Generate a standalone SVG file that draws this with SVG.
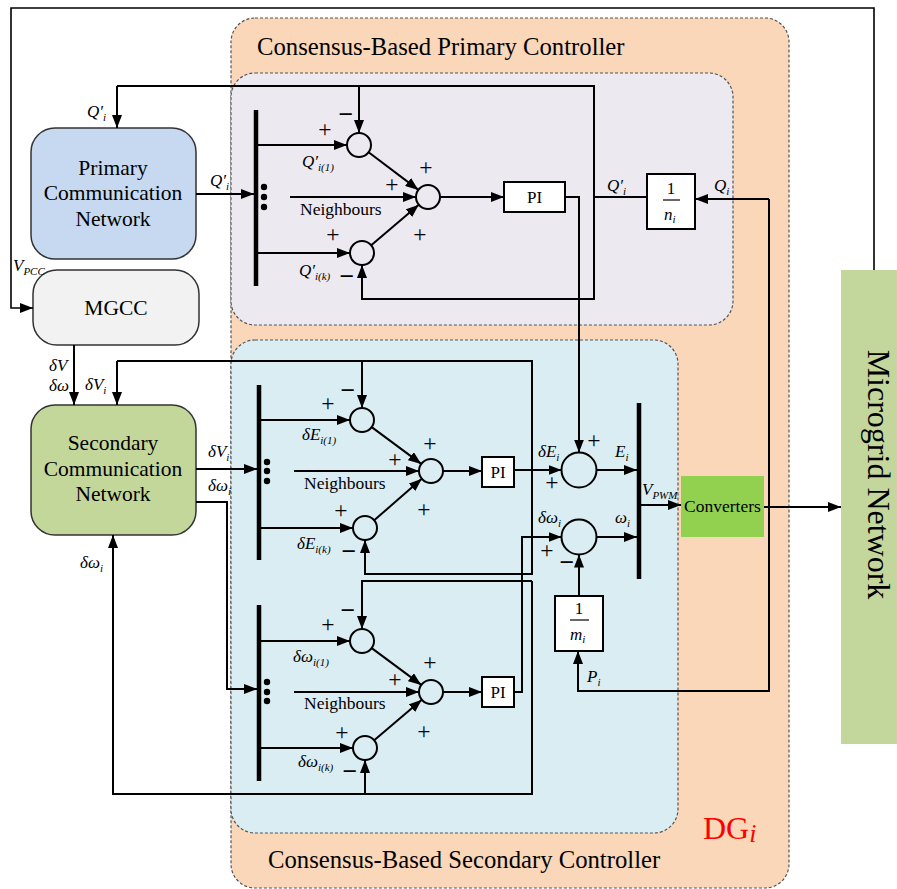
<svg xmlns="http://www.w3.org/2000/svg" width="897" height="889" viewBox="0 0 897 889">
<style>
.t{font-family:"Liberation Serif","Times New Roman",serif;fill:#000}
.box{font-size:21.5px}
.ttl{font-size:24.7px}
.nb{font-size:17.5px}
.lbl{font-size:17px;font-style:italic}
.sub{font-size:11px;font-style:italic}
.pm{font-size:23.5px;text-anchor:middle}
.mn{font-size:26px;text-anchor:middle;font-weight:bold}
.ln{fill:none;stroke:#000;stroke-width:2}
.thin{fill:none;stroke:#000;stroke-width:1.6}
.bar{stroke:#000;stroke-width:4.5}
.sum{fill:none;stroke:#000;stroke-width:2}
.blk{fill:#fff;stroke:#000;stroke-width:2}
.dash{stroke:#555;stroke-width:1.2;stroke-dasharray:3 2}
.node{stroke:#333;stroke-width:1.5}
</style>
<defs>
<marker id="ah" markerUnits="userSpaceOnUse" markerWidth="13" markerHeight="10" refX="13" refY="5" orient="auto"><path d="M0,0 L13,5 L0,10 z" fill="#000"/></marker>
</defs>

<g id="dg">
<rect x="231" y="18" width="558" height="870" rx="24" fill="#FAD7B9" class="dash"/>
<text class="t ttl" x="257" y="55">Consensus-Based Primary Controller</text>
<text class="t ttl" x="268" y="868">Consensus-Based Secondary Controller</text>
<text class="t" x="703" y="839" font-size="32" style="fill:#f00">DG<tspan font-style="italic" font-size="26" dy="3">i</tspan></text>
</g>
<g id="primary-controller">
<rect x="231" y="73" width="502" height="252" rx="24" fill="#ECE9F1" class="dash"/>
</g>
<g id="secondary-controller">
<rect x="231" y="340" width="447" height="493" rx="24" fill="#DAEDF3" class="dash"/>
</g>

<g id="microgrid">
<rect x="841" y="270" width="56" height="474" fill="#C3D69B"/>
<text class="t" font-size="32" text-anchor="middle" x="868" y="474.5" transform="rotate(90 868 474.5)">Microgrid  Network</text>
</g>

<g id="pcn">
<rect x="31" y="128" width="165" height="131" rx="24" fill="#C6D9F0" class="node"/>
<text class="t box" text-anchor="middle" x="113" y="175">Primary</text>
<text class="t box" text-anchor="middle" x="113" y="200">Communication</text>
<text class="t box" text-anchor="middle" x="113" y="226">Network</text>
</g>
<g id="mgcc">
<rect x="33" y="270" width="166" height="75" rx="24" fill="#F2F2F2" class="node"/>
<text class="t box" text-anchor="middle" x="116" y="315">MGCC</text>
</g>
<g id="scn">
<rect x="31" y="405" width="165" height="130" rx="24" fill="#C4D79B" class="node"/>
<text class="t box" text-anchor="middle" x="113" y="450">Secondary</text>
<text class="t box" text-anchor="middle" x="113" y="476">Communication</text>
<text class="t box" text-anchor="middle" x="113" y="501">Network</text>
</g>
<g id="converters">
<rect x="681" y="476" width="83" height="61" fill="#92D050"/>
<text class="t" font-size="17.5" text-anchor="middle" x="722.5" y="512">Converters</text>
</g>

<g id="p-bar">
<line class="bar" x1="256" y1="110" x2="256" y2="286"/>
<circle cx="264" cy="187" r="3.2"/><circle cx="264" cy="197" r="3.2"/><circle cx="264" cy="207" r="3.2"/>
</g>
<g id="p-sum1"><circle class="sum" cx="359" cy="145" r="12"/></g>
<g id="p-sum2"><circle class="sum" cx="428" cy="197" r="12"/></g>
<g id="p-sum3"><circle class="sum" cx="362" cy="253" r="12"/></g>
<g id="p-pi"><rect class="blk" x="504" y="182" width="61" height="30"/><text class="t" font-size="17" text-anchor="middle" x="534.5" y="203">PI</text></g>
<g id="p-gain">
<rect class="blk" x="647" y="174" width="48" height="55"/>
<text class="t" font-size="17" text-anchor="middle" x="671" y="194">1</text>
<line x1="663" y1="200" x2="680" y2="200" stroke="#000" stroke-width="1.2"/>
<text class="t lbl" x="664" y="220">n<tspan class="sub" dy="3">i</tspan></text>
</g>

<g id="e-bar">
<line class="bar" x1="259" y1="385" x2="259" y2="560"/>
<circle cx="267" cy="462" r="3.2"/><circle cx="267" cy="471" r="3.2"/><circle cx="267" cy="481" r="3.2"/>
</g>
<g id="e-sum1"><circle class="sum" cx="362" cy="420" r="12"/></g>
<g id="e-sum2"><circle class="sum" cx="431" cy="471" r="12"/></g>
<g id="e-sum3"><circle class="sum" cx="365" cy="528" r="12"/></g>
<g id="e-pi"><rect class="blk" x="482" y="457" width="32" height="30"/><text class="t" font-size="17" text-anchor="middle" x="498" y="478">PI</text></g>

<g id="w-bar">
<line class="bar" x1="259" y1="605" x2="259" y2="781"/>
<circle cx="267" cy="682" r="3.2"/><circle cx="267" cy="692" r="3.2"/><circle cx="267" cy="701" r="3.2"/>
</g>
<g id="w-sum1"><circle class="sum" cx="362" cy="641" r="12"/></g>
<g id="w-sum2"><circle class="sum" cx="431" cy="692" r="12"/></g>
<g id="w-sum3"><circle class="sum" cx="365" cy="748" r="12"/></g>
<g id="w-pi"><rect class="blk" x="482" y="677" width="32" height="30"/><text class="t" font-size="17" text-anchor="middle" x="498" y="698">PI</text></g>

<g id="e-total"><circle class="sum" cx="579" cy="470" r="17.5"/></g>
<g id="w-total"><circle class="sum" cx="579" cy="537" r="17.5"/></g>
<g id="pwm-bar"><line class="bar" x1="639" y1="403" x2="639" y2="579"/></g>
<g id="m-gain">
<rect class="blk" x="555" y="596" width="48" height="55"/>
<text class="t" font-size="17" text-anchor="middle" x="579" y="614">1</text>
<line x1="570" y1="620" x2="589" y2="620" stroke="#000" stroke-width="1.2"/>
<text class="t lbl" x="570" y="640">m<tspan class="sub" dy="3">i</tspan></text>
</g>

<g id="connectors">
<polyline class="thin" points="874,270 874,8 11,8 11,308 33,308" marker-end="url(#ah)"/>
<line class="ln" x1="74" y1="345" x2="74" y2="405" marker-end="url(#ah)"/>
<line class="ln" x1="196" y1="194" x2="254" y2="194" marker-end="url(#ah)"/>
<line class="ln" x1="258" y1="145" x2="347" y2="145" marker-end="url(#ah)"/>
<line class="ln" x1="290" y1="197" x2="416" y2="197" marker-end="url(#ah)"/>
<line class="ln" x1="258" y1="253" x2="350" y2="253" marker-end="url(#ah)"/>
<line class="ln" x1="368.6" y1="152.2" x2="418.4" y2="189.9" marker-end="url(#ah)"/>
<line class="ln" x1="371.2" y1="245.3" x2="418.8" y2="204.7" marker-end="url(#ah)"/>
<line class="ln" x1="440" y1="197" x2="504" y2="197" marker-end="url(#ah)"/>
<polyline class="ln" points="647,197 594,197"/>
<polyline class="ln" points="117,86 594,86 594,299 362,299 362,265" marker-end="url(#ah)"/>
<line class="ln" x1="117" y1="86" x2="117" y2="128" marker-end="url(#ah)"/>
<line class="ln" x1="359" y1="86" x2="359" y2="133" marker-end="url(#ah)"/>
<polyline class="ln" points="565,197 579,197 579,452.5" marker-end="url(#ah)"/>
<polyline class="ln" points="769,199 695,199" marker-end="url(#ah)"/>
<polyline class="ln" points="769,199 769,691 578,691 578,651" marker-end="url(#ah)"/>
<line class="ln" x1="579" y1="596" x2="579" y2="554.5" marker-end="url(#ah)"/>
<line class="ln" x1="196" y1="469" x2="257" y2="469" marker-end="url(#ah)"/>
<polyline class="ln" points="196,502 227,502 227,689 257,689" marker-end="url(#ah)"/>
<line class="ln" x1="261" y1="420" x2="350" y2="420" marker-end="url(#ah)"/>
<line class="ln" x1="294" y1="471" x2="419" y2="471" marker-end="url(#ah)"/>
<line class="ln" x1="261" y1="528" x2="353" y2="528" marker-end="url(#ah)"/>
<line class="ln" x1="371.7" y1="427.1" x2="421.3" y2="463.9" marker-end="url(#ah)"/>
<line class="ln" x1="374.2" y1="520.3" x2="421.8" y2="478.7" marker-end="url(#ah)"/>
<line class="ln" x1="443" y1="471" x2="482" y2="471" marker-end="url(#ah)"/>
<line class="ln" x1="514" y1="470" x2="561.5" y2="470" marker-end="url(#ah)"/>
<polyline class="ln" points="117,361 532,361 532,574 365,574 365,540" marker-end="url(#ah)"/>
<line class="ln" x1="117" y1="361" x2="117" y2="405" marker-end="url(#ah)"/>
<line class="ln" x1="362" y1="361" x2="362" y2="408" marker-end="url(#ah)"/>
<line class="ln" x1="261" y1="641" x2="350" y2="641" marker-end="url(#ah)"/>
<line class="ln" x1="294" y1="692" x2="419" y2="692" marker-end="url(#ah)"/>
<line class="ln" x1="261" y1="748" x2="353" y2="748" marker-end="url(#ah)"/>
<line class="ln" x1="371.7" y1="648.1" x2="421.3" y2="684.9" marker-end="url(#ah)"/>
<line class="ln" x1="374.2" y1="740.3" x2="421.8" y2="699.7" marker-end="url(#ah)"/>
<line class="ln" x1="443" y1="692" x2="482" y2="692" marker-end="url(#ah)"/>
<polyline class="ln" points="514,692 522,692 522,537 561.5,537" marker-end="url(#ah)"/>
<polyline class="ln" points="532,581 532,794 113,794 113,535" marker-end="url(#ah)"/>
<polyline class="ln" points="532,581 362,581 362,629" marker-end="url(#ah)"/>
<line class="ln" x1="365" y1="794" x2="365" y2="760" marker-end="url(#ah)"/>
<line class="ln" x1="596.5" y1="470" x2="637" y2="470" marker-end="url(#ah)"/>
<line class="ln" x1="596.5" y1="537" x2="637" y2="537" marker-end="url(#ah)"/>
<line class="ln" x1="641" y1="505" x2="681" y2="505" marker-end="url(#ah)"/>
<line class="ln" x1="764" y1="507" x2="841" y2="507" marker-end="url(#ah)"/>
</g>

<g id="labels">
<text class="t lbl" x="13" y="271">V<tspan class="sub" dy="4">PCC</tspan></text>
<text class="t lbl" x="87" y="117">Q′<tspan class="sub" dy="4">i</tspan></text>
<text class="t lbl" x="210" y="186">Q′<tspan class="sub" dy="4">i</tspan></text>
<text class="t lbl" x="302" y="167">Q′<tspan class="sub" dy="4">i(1)</tspan></text>
<text class="t lbl" x="299" y="276">Q′<tspan class="sub" dy="4">i(k)</tspan></text>
<text class="t lbl" x="607" y="191">Q′<tspan class="sub" dy="4">i</tspan></text>
<text class="t lbl" x="714" y="191">Q<tspan class="sub" dy="4">i</tspan></text>
<text class="t nb" x="300" y="215">Neighbours</text>
<text class="t nb" x="304" y="489">Neighbours</text>
<text class="t nb" x="304" y="709">Neighbours</text>

<text class="t lbl" x="49" y="371">δV</text>
<text class="t lbl" x="49" y="391">δω</text>
<text class="t lbl" x="85" y="390">δV<tspan class="sub" dy="4">i</tspan></text>
<text class="t lbl" x="208" y="457">δV<tspan class="sub" dy="4">i</tspan></text>
<text class="t lbl" x="208" y="491">δω<tspan class="sub" dy="4">i</tspan></text>
<text class="t lbl" x="80" y="568">δω<tspan class="sub" dy="4">i</tspan></text>
<text class="t lbl" x="302" y="440">δE<tspan class="sub" dy="4">i(1)</tspan></text>
<text class="t lbl" x="297" y="549">δE<tspan class="sub" dy="4">i(k)</tspan></text>
<text class="t lbl" x="293" y="662">δω<tspan class="sub" dy="4">i(1)</tspan></text>
<text class="t lbl" x="298" y="767">δω<tspan class="sub" dy="4">i(k)</tspan></text>
<text class="t lbl" x="538" y="457">δE<tspan class="sub" dy="4">i</tspan></text>
<text class="t lbl" x="615" y="457">E<tspan class="sub" dy="4">i</tspan></text>
<text class="t lbl" x="538" y="523">δω<tspan class="sub" dy="4">i</tspan></text>
<text class="t lbl" x="615" y="523">ω<tspan class="sub" dy="4">i</tspan></text>
<text class="t lbl" x="642" y="495">V<tspan class="sub" dy="4">PWM</tspan></text>
<text class="t lbl" x="587" y="682">P<tspan class="sub" dy="4">i</tspan></text>

<text class="t pm" x="325" y="137">+</text>
<text class="t mn" x="346" y="123">−</text>
<text class="t pm" x="426" y="175">+</text>
<text class="t pm" x="392" y="192">+</text>
<text class="t pm" x="420" y="242">+</text>
<text class="t pm" x="333" y="242">+</text>
<text class="t mn" x="347" y="285">−</text>
<text class="t pm" x="328" y="411">+</text>
<text class="t mn" x="348" y="399">−</text>
<text class="t pm" x="430" y="451">+</text>
<text class="t pm" x="395" y="467">+</text>
<text class="t pm" x="424" y="517">+</text>
<text class="t pm" x="341" y="518">+</text>
<text class="t mn" x="349" y="560">−</text>
<text class="t pm" x="328" y="632">+</text>
<text class="t mn" x="348" y="619">−</text>
<text class="t pm" x="430" y="670">+</text>
<text class="t pm" x="395" y="687">+</text>
<text class="t pm" x="424" y="739">+</text>
<text class="t pm" x="342" y="740">+</text>
<text class="t mn" x="350" y="780">−</text>
<text class="t pm" x="594" y="448">+</text>
<text class="t pm" x="552" y="490">+</text>
<text class="t pm" x="547" y="558">+</text>
<text class="t mn" x="567" y="571">−</text>
</g>
</svg>
